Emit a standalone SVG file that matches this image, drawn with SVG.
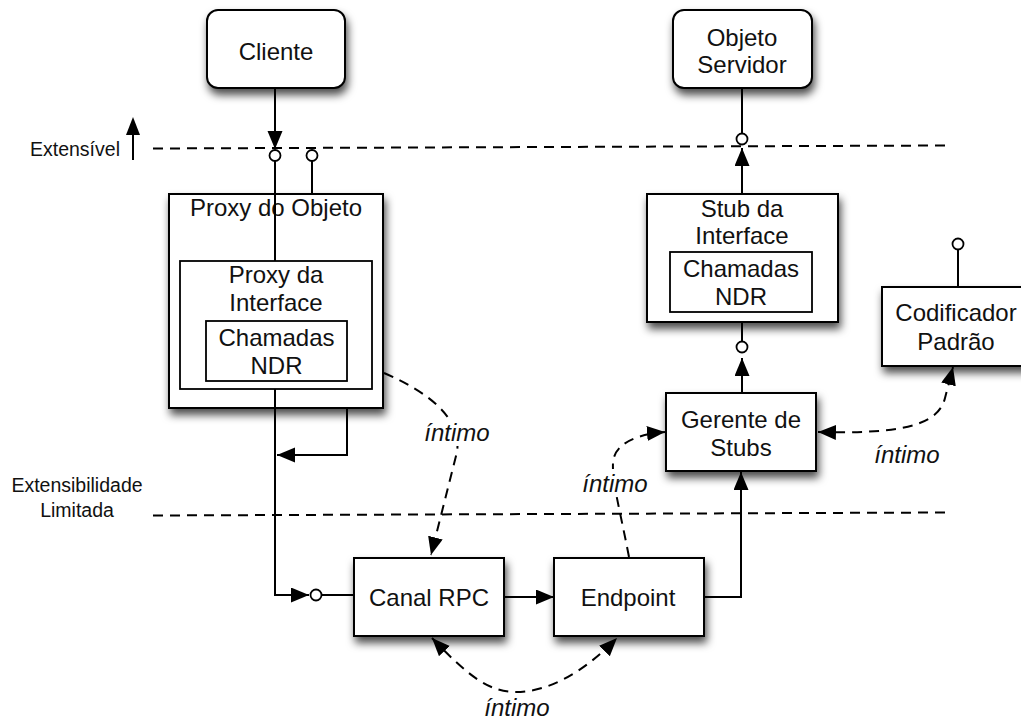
<svg xmlns="http://www.w3.org/2000/svg" width="1021" height="720" viewBox="0 0 1021 720">
  <defs>
    <filter id="shadow" x="-20%" y="-20%" width="140%" height="160%">
      <feDropShadow dx="2" dy="6" stdDeviation="4.5" flood-color="#000" flood-opacity="0.7"/>
    </filter>
    <marker id="arrow" markerUnits="userSpaceOnUse" markerWidth="19" markerHeight="16" refX="18" refY="7.5" orient="auto-start-reverse">
      <path d="M0,0 L18,7.5 L0,15 z" fill="#000"/>
    </marker>
  </defs>
  <style>
    .box { fill: #fff; stroke: #000; stroke-width: 2; }
    .inner { fill: #fff; stroke: #000; stroke-width: 1.8; }
    .lbl { font-family: "Liberation Sans", Arial, Helvetica, sans-serif; font-size: 24px; fill: #111; text-anchor: middle; }
    .side { font-family: "Liberation Sans", Arial, Helvetica, sans-serif; font-size: 19.5px; fill: #111; }
    .it { font-family: "Liberation Sans", Arial, Helvetica, sans-serif; font-size: 24px; font-style: italic; fill: #111; text-anchor: middle; }
    .wire { fill: none; stroke: #000; stroke-width: 2; }
    .dash { fill: none; stroke: #000; stroke-width: 2; stroke-dasharray: 10 7; }
    .port { fill: #fff; stroke: #000; stroke-width: 1.8; }
  </style>

  <rect width="1021" height="720" fill="#fff"/>

  <!-- boundary lines -->
  <g id="boundaries">
    <path class="dash" d="M153,148.5 L945,145.5"/>
    <path class="dash" d="M153,515.5 L945,512.5"/>
    <text class="side" x="30" y="156">Extensível</text>
    <path class="wire" d="M133,160 L133,125"/>
    <path d="M126,135 L133,117 L140,135 z" fill="#000"/>
    <text class="side" x="77" y="492" text-anchor="middle">Extensibilidade</text>
    <text class="side" x="77" y="517" text-anchor="middle">Limitada</text>
  </g>

  <!-- nodes -->
  <g id="cliente">
    <rect class="box" x="207" y="10" width="138" height="78" rx="11" filter="url(#shadow)"/>
    <text class="lbl" x="276" y="60">Cliente</text>
  </g>

  <g id="objeto-servidor">
    <rect class="box" x="673" y="10" width="139" height="78" rx="11" filter="url(#shadow)"/>
    <text class="lbl" x="742" y="45.5">Objeto</text>
    <text class="lbl" x="742" y="72.5">Servidor</text>
  </g>

  <g id="proxy-objeto">
    <rect class="box" x="169" y="194" width="214" height="214" filter="url(#shadow)"/>
    <text class="lbl" x="276" y="216">Proxy do Objeto</text>
    <g id="proxy-interface">
      <rect class="inner" x="180" y="261" width="192" height="128"/>
      <text class="lbl" x="276" y="283">Proxy da</text>
      <text class="lbl" x="276" y="311">Interface</text>
      <g id="proxy-ndr">
        <rect class="inner" x="206" y="321" width="141" height="60"/>
        <text class="lbl" x="276.5" y="346">Chamadas</text>
        <text class="lbl" x="276.5" y="374">NDR</text>
      </g>
    </g>
  </g>

  <g id="stub-interface">
    <rect class="box" x="647" y="194" width="191" height="128" filter="url(#shadow)"/>
    <text class="lbl" x="742" y="217">Stub da</text>
    <text class="lbl" x="742" y="244">Interface</text>
    <g id="stub-ndr">
      <rect class="inner" x="670" y="252" width="142" height="60"/>
      <text class="lbl" x="741" y="277">Chamadas</text>
      <text class="lbl" x="741" y="305">NDR</text>
    </g>
  </g>

  <g id="codificador">
    <rect class="box" x="882" y="287" width="150" height="79" filter="url(#shadow)"/>
    <text class="lbl" x="956" y="321">Codificador</text>
    <text class="lbl" x="956" y="350">Padrão</text>
  </g>

  <g id="gerente-stubs">
    <rect class="box" x="666" y="393" width="150" height="78" filter="url(#shadow)"/>
    <text class="lbl" x="741" y="428">Gerente de</text>
    <text class="lbl" x="741" y="456">Stubs</text>
  </g>

  <g id="canal-rpc">
    <rect class="box" x="354" y="558" width="150" height="78" filter="url(#shadow)"/>
    <text class="lbl" x="429" y="605.5">Canal RPC</text>
  </g>

  <g id="endpoint">
    <rect class="box" x="554" y="558" width="150" height="78" filter="url(#shadow)"/>
    <text class="lbl" x="628" y="605.5">Endpoint</text>
  </g>

  <!-- connectors -->
  <g id="connectors">
    <!-- client into object proxy -->
    <path class="wire" d="M275,88 L275,149" marker-end="url(#arrow)"/>
    <path class="wire" d="M275,161 L275,261"/>
    <circle class="port" cx="275" cy="155.5" r="5.5"/>
    <path class="wire" d="M312,161 L312,194"/>
    <circle class="port" cx="312" cy="155.5" r="5.5"/>

    <!-- proxy down to channel -->
    <path class="wire" d="M275,389 L275,595 L309,595" marker-end="url(#arrow)"/>
    <circle class="port" cx="316" cy="595" r="5.5"/>
    <path class="wire" d="M321.5,595 L354,595"/>
    <path class="wire" d="M347,408 L347,455 L277,455" marker-end="url(#arrow)"/>

    <!-- channel to endpoint to stub manager -->
    <path class="wire" d="M504,597 L554,597" marker-end="url(#arrow)"/>
    <path class="wire" d="M704,597 L741,597 L741,472" marker-end="url(#arrow)"/>

    <!-- stub manager up to stub, stub up to server object -->
    <path class="wire" d="M742,393 L742,358" marker-end="url(#arrow)"/>
    <circle class="port" cx="742" cy="347" r="5.5"/>
    <path class="wire" d="M742,341.5 L742,322"/>
    <path class="wire" d="M742,194 L742,148" marker-end="url(#arrow)"/>
    <circle class="port" cx="742" cy="139" r="5.5"/>
    <path class="wire" d="M742,133.5 L742,88"/>

    <!-- encoder port -->
    <path class="wire" d="M958,287 L958,249.5"/>
    <circle class="port" cx="958" cy="244" r="5.5"/>

    <!-- intimate dependencies -->
    <path class="dash" d="M384,373 C428,392 462,418 457,452 L431,555" marker-end="url(#arrow)"/>
    <path class="dash" d="M629,557 C620,510 612,482 613,463 C614,442 640,434 665,432" marker-end="url(#arrow)"/>
    <path class="dash" d="M818,432 C900,434 938,426 945,398 L953,367" marker-start="url(#arrow)" marker-end="url(#arrow)"/>
    <path class="dash" d="M432,638 C470,678 490,692 516,692 C545,692 580,676 617,638" marker-start="url(#arrow)" marker-end="url(#arrow)"/>

    <rect x="421" y="418" width="72" height="28" fill="#fff"/>
    <text class="it" x="457" y="441">íntimo</text>
    <rect x="580" y="469" width="70" height="28" fill="#fff"/>
    <text class="it" x="615" y="492">íntimo</text>
    <text class="it" x="907" y="463">íntimo</text>
    <text class="it" x="517" y="716">íntimo</text>
  </g>
</svg>
